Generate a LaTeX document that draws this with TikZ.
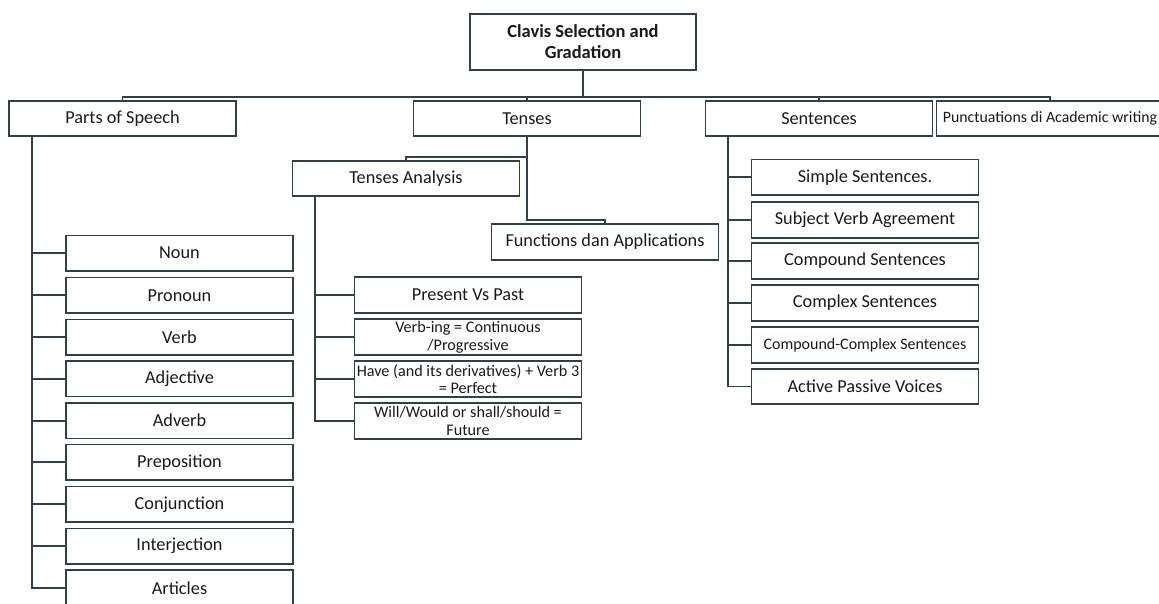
\documentclass[tikz,border=0pt]{standalone}
\usepackage{fontspec}
\setmainfont{Carlito}
\definecolor{ln}{HTML}{323E4F}
\definecolor{txt}{HTML}{1A1A1A}
\tikzset{
  box/.style={draw=ln, line width=0.9pt, fill=white, minimum width=4.54cm, minimum height=0.71cm,
    inner sep=1pt, align=center, text=txt, font=\fontsize{10.4}{12}\selectfont},
  smallbox/.style={box, font=\fontsize{9.2}{10}\selectfont},
  conn/.style={draw=ln, line width=1.1pt},
}
\begin{document}
\begin{tikzpicture}[x=0.02cm,y=-0.02cm]
\useasboundingbox (0,0) rectangle (1159,604);
\clip (0,0) rectangle (1159,604);
% root
\node[box, minimum width=4.52cm, minimum height=1.12cm, font=\bfseries\fontsize{10.5}{12}\selectfont] (root) at (583,42) {Clavis Selection and\\Gradation};
% level 1
\node[box] (pos) at (122.5,118.5) {Parts of Speech};
\node[box] (ten) at (527,118.5) {Tenses};
\node[box] (sen) at (819,118.5) {Sentences};
\node[box, font=\fontsize{9}{11}\selectfont] (punc) at (1050,118.5) {Punctuations di Academic writing};
% tenses
\node[box] (ta) at (406,178.5) {Tenses Analysis};
\node[box] (fun) at (605,242) {Functions dan Applications};
\node[box] (pvp) at (468,295) {Present Vs Past};
\node[smallbox] (vi) at (468,337) {Verb-ing = Continuous\\/Progressive};
\node[smallbox] (hv) at (468,379) {Have (and its derivatives) + Verb 3\\= Perfect};
\node[smallbox] (wl) at (468,421) {Will/Would or shall/should =\\Future};
% parts of speech
\node[box] (p1) at (179.5,253.2) {Noun};
\node[box] (p2) at (179.5,295.3) {Pronoun};
\node[box] (p3) at (179.5,337.1) {Verb};
\node[box] (p4) at (179.5,378.9) {Adjective};
\node[box] (p5) at (179.5,420.7) {Adverb};
\node[box] (p6) at (179.5,462.2) {Preposition};
\node[box] (p7) at (179.5,504.3) {Conjunction};
\node[box] (p8) at (179.5,546.1) {Interjection};
\node[box] (p9) at (179.5,587.9) {Articles};
% sentences
\node[box] (s1) at (865,177.2) {Simple Sentences.};
\node[box] (s2) at (865,220) {Subject Verb Agreement};
\node[box] (s3) at (865,261) {Compound Sentences};
\node[box] (s4) at (865,303) {Complex Sentences};
\node[box, font=\fontsize{9.1}{11}\selectfont] (s5) at (865,345) {Compound-Complex Sentences};
\node[box] (s6) at (865,386.5) {Active Passive Voices};
% top connectors
\coordinate (bar) at (0,97);
\draw[conn] (pos.north) -- (pos.north |- bar) -- (punc.north |- bar) -- (punc.north);
\draw[conn] (root.south) -- (root.south |- bar);
\draw[conn] (ten.north) -- (ten.north |- bar);
\draw[conn] (sen.north) -- (sen.north |- bar);
% tenses connectors
\coordinate (tj1) at (0,157);
\coordinate (tj2) at (0,220);
\draw[conn] (ten.south) -- (ten.south |- tj2) -| (fun.north);
\draw[conn] (ten.south |- tj1) -| (ta.north);
\coordinate (tat) at ([xshift=0.46cm]ta.south west);
\draw[conn] (tat) |- (wl.west);
\foreach \c in {pvp,vi,hv} \draw[conn] (\c.west) -- (\c.west -| tat);
% parts of speech connectors
\coordinate (pst) at ([xshift=0.48cm]pos.south west);
\draw[conn] (pst) |- (p9.west);
\foreach \c in {p1,p2,p3,p4,p5,p6,p7,p8} \draw[conn] (\c.west) -- (\c.west -| pst);
% sentences connectors
\coordinate (snt) at ([xshift=0.46cm]sen.south west);
\draw[conn] (snt) |- (s6.west);
\foreach \c in {s1,s2,s3,s4,s5} \draw[conn] (\c.west) -- (\c.west -| snt);
\end{tikzpicture}
\end{document}
